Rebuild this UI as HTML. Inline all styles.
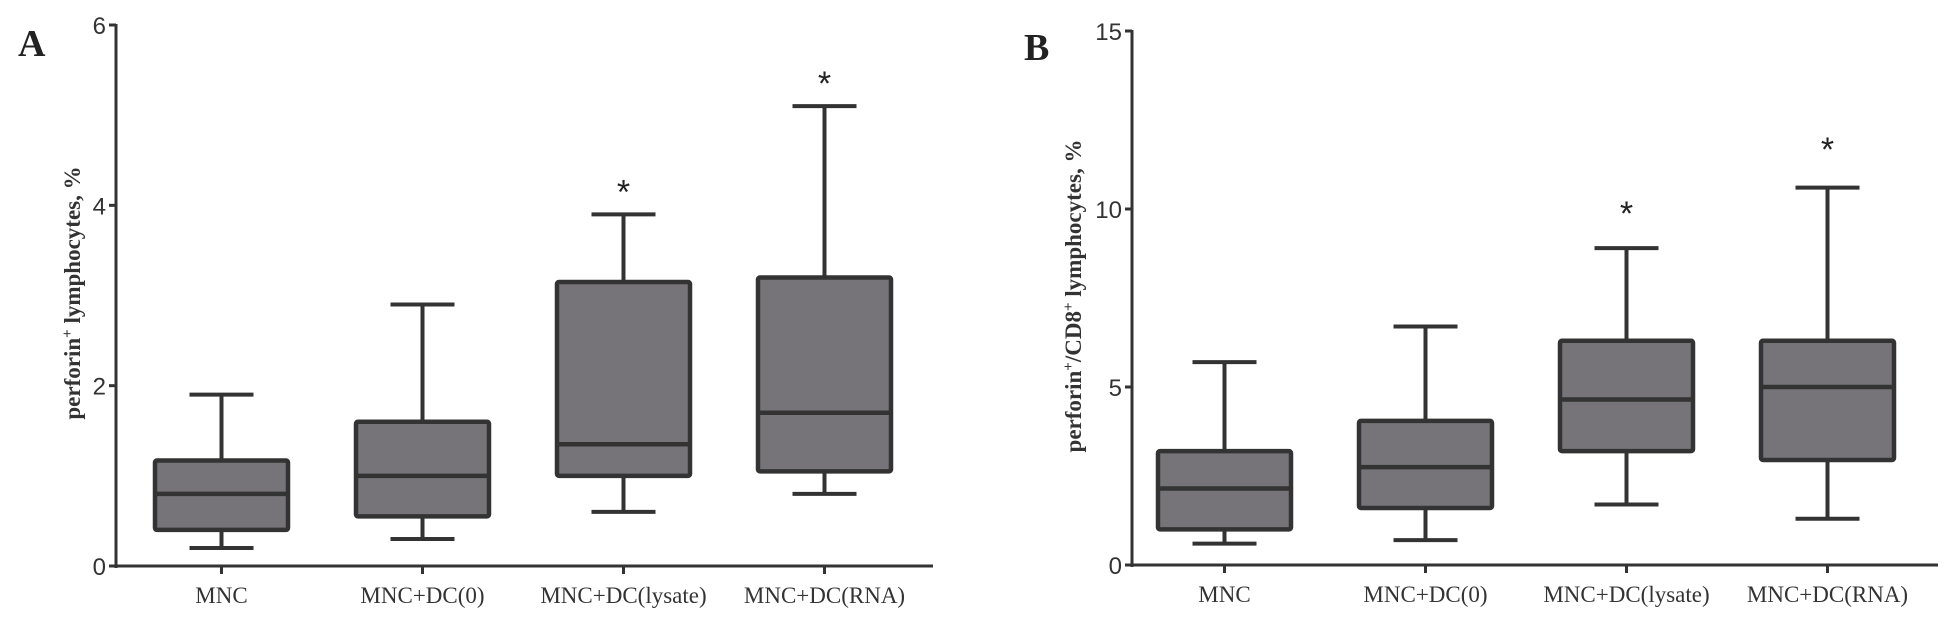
<!DOCTYPE html>
<html><head><meta charset="utf-8"><style>
body{margin:0;background:#fff;}
svg{display:block;}
.tk{font-family:"Liberation Sans",sans-serif;font-size:24px;fill:#333;}
.cat{font-family:"Liberation Serif",serif;font-size:23px;fill:#333;}
.ttl{font-family:"Liberation Serif",serif;font-size:23px;fill:#333;font-weight:bold;}
</style></head><body>
<svg id="chart" width="1954" height="624" viewBox="0 0 1954 624"></svg>
<script>
const categories = ["MNC","MNC+DC(0)","MNC+DC(lysate)","MNC+DC(RNA)"];
const aMin = [0.2,0.3,0.6,0.8];
const aQ1 = [0.4,0.55,1.0,1.05];
const aMed = [0.8,1.0,1.35,1.7];
const aQ3 = [1.17,1.6,3.15,3.2];
const aMax = [1.9,2.9,3.9,5.1];
const aStar = [null,null,4.2,5.4];
const aTicks = [0,2,4,6];
const bMin = [0.6,0.7,1.7,1.3];
const bQ1 = [1.0,1.6,3.2,2.95];
const bMed = [2.15,2.75,4.65,5.0];
const bQ3 = [3.2,4.05,6.3,6.3];
const bMax = [5.7,6.7,8.9,10.6];
const bStar = [null,null,10.0,11.8];
const bTicks = [0,5,10,15];

const NS="http://www.w3.org/2000/svg";
const svg=document.getElementById('chart');
function mk(tag,attrs,parent){const e=document.createElementNS(NS,tag);for(const k in attrs)e.setAttribute(k,attrs[k]);(parent||svg).appendChild(e);return e;}

function panel(cfg){
  const g=mk('g',{});
  
  
  const y=v=>cfg.y0-(v-cfg.vmin)/(cfg.vmax-cfg.vmin)*(cfg.y0-cfg.y1);
  const x=i=>cfg.ax+cfg.step*(i+0.5)+cfg.xoff;
  const col='#333';
  const ya=mk('line',{x1:cfg.ax,y1:y(cfg.vmax)-1,x2:cfg.ax,y2:cfg.y0+2,stroke:col,'stroke-width':3},g);
  
  
  const xa=mk('line',{x1:cfg.ax-1,y1:cfg.y0,x2:cfg.xEnd,y2:cfg.y0,stroke:col,'stroke-width':3},g);
  
  
  cfg.ticks.forEach(t=>{
    mk('line',{x1:cfg.ax-7,y1:y(t),x2:cfg.ax,y2:y(t),stroke:col,'stroke-width':3},g);
    const tx=mk('text',{x:cfg.ax-10,y:y(t)+9,'text-anchor':'end',class:'tk'},g);
    tx.textContent=t;
    
    
  });
  categories.forEach((c,i)=>{
    const cx=x(i);
    mk('line',{x1:cx,y1:cfg.y0,x2:cx,y2:cfg.y0+8,stroke:col,'stroke-width':3},g);
    const tx=mk('text',{x:cx,y:cfg.y0+37,'text-anchor':'middle',class:'cat'},g);
    tx.textContent=c;
    
    
    const bg=mk('g',{},g);
    
    
    const bw=cfg.bw, cw=cfg.cw;
    mk('line',{x1:cx,y1:y(cfg.max[i]),x2:cx,y2:y(cfg.min[i]),stroke:col,'stroke-width':4},bg);
    mk('line',{x1:cx-cw/2,y1:y(cfg.max[i]),x2:cx+cw/2,y2:y(cfg.max[i]),stroke:col,'stroke-width':4},bg);
    mk('line',{x1:cx-cw/2,y1:y(cfg.min[i]),x2:cx+cw/2,y2:y(cfg.min[i]),stroke:col,'stroke-width':4},bg);
    mk('rect',{x:cx-bw/2,y:y(cfg.q3[i]),width:bw,height:y(cfg.q1[i])-y(cfg.q3[i]),fill:'#767479',stroke:col,'stroke-width':4.5,rx:2},bg);
    mk('line',{x1:cx-bw/2,y1:y(cfg.med[i]),x2:cx+bw/2,y2:y(cfg.med[i]),stroke:col,'stroke-width':4.5},bg);
    if(cfg.star[i]!=null){
      const s=mk('text',{x:cx,y:y(cfg.star[i])+16,'text-anchor':'middle','font-family':'Liberation Sans, sans-serif','font-size':34,fill:'#222'},g);
      s.textContent='*';
      
      
    }
  });
  const t=mk('text',{transform:`translate(${cfg.tx},${cfg.ty}) rotate(-90)`,'text-anchor':'middle',class:'ttl'},g);
  t.innerHTML=cfg.title;
  
  
  const L=mk('text',{x:cfg.lx,y:cfg.ly,'font-family':'Liberation Serif, serif','font-size':38,'font-weight':'bold',fill:'#222'},g);
  L.textContent=cfg.letter;
  
  
}
panel({name:'panel-a',ax:116,xEnd:933,step:201,xoff:5,y0:566,y1:25,vmin:0,vmax:6,ticks:aTicks,min:aMin,q1:aQ1,med:aMed,q3:aQ3,max:aMax,star:aStar,bw:133,cw:64,
  title:'perforin<tspan dy="-8" font-size="15">+</tspan><tspan dy="8"> lymphocytes, %</tspan>',tx:80,ty:293,letter:'A',lx:18,ly:56});
panel({name:'panel-b',ax:1132,xEnd:1938,step:201,xoff:-8,y0:565,y1:31,vmin:0,vmax:15,ticks:bTicks,min:bMin,q1:bQ1,med:bMed,q3:bQ3,max:bMax,star:bStar,bw:133,cw:64,
  title:'perforin<tspan dy="-8" font-size="15">+</tspan><tspan dy="8">/CD8</tspan><tspan dy="-8" font-size="15">+</tspan><tspan dy="8"> lymphocytes, %</tspan>',tx:1081,ty:296,letter:'B',lx:1024,ly:60});
</script>
</body></html>
